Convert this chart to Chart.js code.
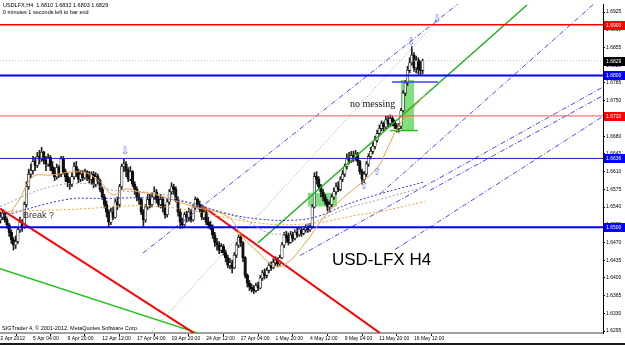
<!DOCTYPE html>
<html>
<head>
<meta charset="utf-8">
<script src="https://cdn.jsdelivr.net/npm/chart.js@4.4.0/dist/chart.umd.min.js"></script>
<style>
  html, body { margin: 0; padding: 0; background: #fff; }
  #wrap { width: 625px; height: 345px; }
</style>
</head>
<body>
<div id="wrap"><canvas id="chart" width="625" height="345"></canvas></div>
<script>
// USDLFX H4 bars, index 0 = first visible bar (2 Apr 2012)
const firstOpen = 1.6515
const closes = [
  1.6520,1.6528,1.6515,1.6505,1.6490,1.6475,1.6465,1.6472,1.6495,1.6510,
  1.6500,1.6545,1.6580,1.6605,1.6612,1.6630,1.6622,1.6640,1.6635,1.6648,
  1.6632,1.6625,1.6638,1.6620,1.6612,1.6600,1.6618,1.6605,1.6635,1.6610,
  1.6600,1.6590,1.6585,1.6600,1.6620,1.6610,1.6595,1.6605,1.6598,1.6610,
  1.6600,1.6595,1.6605,1.6585,1.6600,1.6592,1.6575,1.6560,1.6545,1.6530,
  1.6510,1.6530,1.6520,1.6550,1.6545,1.6580,1.6620,1.6625,1.6612,1.6595,
  1.6610,1.6585,1.6575,1.6560,1.6555,1.6530,1.6515,1.6540,1.6555,1.6545,
  1.6560,1.6570,1.6555,1.6545,1.6555,1.6540,1.6525,1.6550,1.6570,1.6580,
  1.6575,1.6555,1.6530,1.6510,1.6505,1.6525,1.6520,1.6530,1.6515,1.6540,
  1.6555,1.6545,1.6540,1.6520,1.6530,1.6510,1.6505,1.6500,1.6485,1.6470,
  1.6465,1.6455,1.6462,1.6450,1.6440,1.6425,1.6430,1.6420,1.6445,1.6465,
  1.6480,1.6470,1.6440,1.6405,1.6390,1.6382,1.6378,1.6375,1.6385,1.6380,
  1.6400,1.6410,1.6405,1.6415,1.6425,1.6420,1.6430,1.6435,1.6428,1.6440,
  1.6465,1.6485,1.6480,1.6470,1.6485,1.6478,1.6490,1.6485,1.6495,1.6488,
  1.6495,1.6500,1.6495,1.6502,1.6540,1.6600,1.6595,1.6580,1.6570,1.6560,
  1.6550,1.6540,1.6545,1.6560,1.6570,1.6580,1.6575,1.6595,1.6605,1.6620,
  1.6635,1.6630,1.6642,1.6638,1.6645,1.6630,1.6610,1.6595,1.6605,1.6625,
  1.6640,1.6650,1.6660,1.6672,1.6685,1.6695,1.6705,1.6698,1.6712,1.6705,
  1.6715,1.6708,1.6700,1.6695,1.6700,1.6730,1.6765,1.6785,1.6810,1.6825,
  1.6840,1.6815,1.6830,1.6812,1.6810,1.6829
]
const highs = [
  1.6530,1.6535,1.6532,1.6520,1.6508,1.6495,1.6480,1.6483,1.6500,1.6520,
  1.6515,1.6550,1.6590,1.6615,1.6625,1.6640,1.6638,1.6648,1.6652,1.6658,
  1.6650,1.6640,1.6645,1.6642,1.6630,1.6618,1.6625,1.6622,1.6640,1.6640,
  1.6615,1.6608,1.6598,1.6608,1.6628,1.6630,1.6615,1.6612,1.6612,1.6615,
  1.6612,1.6610,1.6610,1.6610,1.6608,1.6605,1.6595,1.6580,1.6565,1.6552,
  1.6535,1.6538,1.6540,1.6555,1.6560,1.6585,1.6625,1.6635,1.6630,1.6618,
  1.6620,1.6612,1.6590,1.6580,1.6568,1.6558,1.6535,1.6545,1.6565,1.6565,
  1.6568,1.6580,1.6575,1.6562,1.6565,1.6560,1.6545,1.6555,1.6575,1.6588,
  1.6585,1.6580,1.6560,1.6535,1.6518,1.6530,1.6532,1.6538,1.6535,1.6545,
  1.6560,1.6558,1.6552,1.6545,1.6538,1.6535,1.6520,1.6512,1.6505,1.6490,
  1.6478,1.6472,1.6468,1.6466,1.6455,1.6445,1.6438,1.6435,1.6450,1.6470,
  1.6485,1.6484,1.6472,1.6442,1.6408,1.6395,1.6388,1.6385,1.6390,1.6392,
  1.6405,1.6415,1.6418,1.6420,1.6430,1.6432,1.6438,1.6442,1.6440,1.6445,
  1.6470,1.6490,1.6492,1.6488,1.6492,1.6490,1.6495,1.6498,1.6500,1.6500,
  1.6502,1.6505,1.6505,1.6508,1.6545,1.6608,1.6610,1.6600,1.6585,1.6575,
  1.6565,1.6555,1.6552,1.6565,1.6578,1.6588,1.6590,1.6600,1.6612,1.6625,
  1.6645,1.6648,1.6650,1.6650,1.6652,1.6648,1.6632,1.6615,1.6610,1.6630,
  1.6645,1.6658,1.6668,1.6680,1.6692,1.6702,1.6710,1.6708,1.6720,1.6720,
  1.6722,1.6720,1.6712,1.6705,1.6705,1.6735,1.6770,1.6790,1.6818,1.6835,
  1.6857,1.6845,1.6838,1.6835,1.6828,1.6832
]
const lows = [
  1.6508,1.6515,1.6510,1.6498,1.6482,1.6468,1.6455,1.6458,1.6468,1.6490,
  1.6492,1.6498,1.6540,1.6575,1.6598,1.6605,1.6612,1.6618,1.6625,1.6630,
  1.6625,1.6612,1.6620,1.6612,1.6605,1.6592,1.6595,1.6598,1.6600,1.6605,
  1.6590,1.6580,1.6575,1.6580,1.6595,1.6600,1.6588,1.6590,1.6592,1.6595,
  1.6592,1.6588,1.6585,1.6578,1.6580,1.6585,1.6570,1.6555,1.6538,1.6520,
  1.6500,1.6505,1.6515,1.6518,1.6535,1.6540,1.6575,1.6610,1.6600,1.6590,
  1.6592,1.6580,1.6565,1.6552,1.6545,1.6525,1.6502,1.6510,1.6535,1.6538,
  1.6540,1.6555,1.6548,1.6540,1.6538,1.6530,1.6518,1.6520,1.6545,1.6565,
  1.6565,1.6550,1.6522,1.6498,1.6498,1.6500,1.6510,1.6512,1.6510,1.6512,
  1.6535,1.6538,1.6530,1.6515,1.6515,1.6505,1.6498,1.6495,1.6478,1.6462,
  1.6455,1.6448,1.6450,1.6445,1.6432,1.6420,1.6418,1.6410,1.6418,1.6440,
  1.6460,1.6462,1.6432,1.6400,1.6382,1.6375,1.6372,1.6369,1.6372,1.6375,
  1.6378,1.6395,1.6398,1.6400,1.6410,1.6415,1.6418,1.6425,1.6422,1.6425,
  1.6438,1.6460,1.6470,1.6465,1.6468,1.6472,1.6475,1.6480,1.6482,1.6482,
  1.6485,1.6490,1.6490,1.6492,1.6498,1.6538,1.6585,1.6575,1.6560,1.6552,
  1.6545,1.6532,1.6530,1.6540,1.6555,1.6565,1.6570,1.6572,1.6590,1.6600,
  1.6615,1.6625,1.6628,1.6630,1.6632,1.6622,1.6605,1.6585,1.6588,1.6600,
  1.6620,1.6635,1.6645,1.6655,1.6668,1.6680,1.6690,1.6690,1.6695,1.6698,
  1.6700,1.6700,1.6695,1.6688,1.6688,1.6695,1.6728,1.6760,1.6780,1.6805,
  1.6820,1.6808,1.6805,1.6802,1.6800,1.6803
]

// axes
const xMin = -0.23
const xMax = 278.3
const yMin = 1.62912
const yMax = 1.69410
const xTickIdx = [0, 15, 31, 47, 63, 79, 95, 111, 127, 143, 159, 175, 191]
const xTickText = ['2 Apr 2012', '5 Apr 04:00', '9 Apr 20:00', '12 Apr 12:00', '17 Apr 04:00', '19 Apr 20:00',
  '24 Apr 12:00', '27 Apr 04:00', '1 May 20:00', '4 May 12:00', '9 May 04:00', '11 May 20:00', '16 May 12:00']
const yTickValues = [1.6925, 1.6890, 1.6855, 1.6820, 1.6785, 1.6750, 1.6715, 1.6680, 1.6645, 1.6610, 1.6575,
  1.6540, 1.6505, 1.6470, 1.6435, 1.6400, 1.6365, 1.6330, 1.6295]

// horizontal levels and their price tags
const levelPrices = [1.6900, 1.6829, 1.6800, 1.6720, 1.6636, 1.6500]
const levelTagColors = ['#ff0000', '#000000', '#0000ff', '#ff0000', '#0000ff', '#0000ff']

// trend lines: [[bar, price], [bar, price]]
const redLine1 = [[-0.23, 1.6537], [89.4, 1.6291]]
const greenLine1 = [[-0.23, 1.6418], [91.2, 1.6291]]
const redLine2 = [[93.5, 1.6541], [175.3, 1.6291]]
const greenUp = [[118.9, 1.6469], [243.2, 1.6939]]
const paleGreenDots = [[69.1, 1.6291], [201.6, 1.6908]]
const blueDashLines = [
  [[65.8, 1.6449], [211.3, 1.6941]],
  [[138.3, 1.6444], [278.3, 1.6777]],
  [[175.3, 1.6566], [274.1, 1.6941]],
  [[182.2, 1.6456], [278.3, 1.6719]],
  [[198.4, 1.6573], [278.3, 1.6760]]
]
const blueShort = [[180.8, 1.6787], [202.1, 1.6787]]
const greenShort = [[179.9, 1.6691], [192.8, 1.6691]]

// rectangles: [bar1, price1, bar2, price2]
const boxes = [
  [142.0, 1.6568, 155.4, 1.6541],
  [185.0, 1.6791, 191.0, 1.6691]
]

// moving averages: [bar, price]
const maOrange = [[3,1.6518],[9,1.6557],[15,1.6600],[23,1.6603],[38,1.6609],[46,1.6590],[52,1.6564],[58,1.6576],
  [64,1.6570],[72,1.6564],[89,1.6541],[105,1.6521],[112,1.6479],[118.5,1.6453],[126,1.6424],[132,1.6428],
  [141.5,1.6473],[149,1.6518],[158,1.6557],[169,1.6596],[175,1.6623],[178.5,1.6654],[185,1.6707],[196,1.6761]]
const maGray = [[-0.2,1.6541],[22.9,1.6580],[41.3,1.6586],[50.6,1.6574],[73.7,1.6566],[88.9,1.6545],[112,1.6516],
  [124.5,1.6488],[135.1,1.6492],[146.2,1.6512],[160,1.6537],[175.3,1.6555],[196,1.6580]]
const maBlue = [[-0.2,1.6521],[30.7,1.6555],[46,1.6557],[73.7,1.6557],[88.9,1.6547],[104.6,1.6527],[119.9,1.6516],
  [135.1,1.6514],[146.2,1.6521],[160,1.6545],[175.3,1.6566],[196,1.6590]]
const maTan = [[-0.2,1.6531],[30.7,1.6535],[73.7,1.6541],[119.9,1.6508],[144.3,1.6508],[166,1.6525],[175.3,1.6531],[196,1.6551]]

// arrows and texts
const arrows = [[57.5, 1.6650, '⇩'], [189.6, 1.6866, '⇩'], [201.6, 1.6910, '⇩'], [167.9, 1.6580, '⇧'], [173.9, 1.6609, '⇧']]
const notes = [
  ['Break ?', 10.4, 1.6524, '9px "Liberation Sans"', '#333'],
  ['no messing', 161.4, 1.6742, '10px "Liberation Serif"', '#111'],
  ['USD-LFX H4', 153.1, 1.6434, '17px "Liberation Sans"', '#000']
]

const FONT = 'Liberation Sans'

function seg(points, color, width, dash, order) {
  return {
    type: 'line',
    data: points.map(p => ({ x: p[0], y: p[1] })),
    borderColor: color,
    borderWidth: width,
    borderDash: dash || [],
    pointRadius: 0,
    tension: 0,
    order: order === undefined ? 0 : order
  }
}

function curve(points, color, dash) {
  const d = seg(points, color, 1, dash, 0)
  d.tension = 0.4
  return d
}

window.addEventListener('DOMContentLoaded', function () {
  const opens = closes.map((c, i) => i === 0 ? firstOpen : closes[i - 1])

  const wicks = closes.map((c, i) => ({ x: i, y: [lows[i], highs[i]] }))
  const bodies = closes.map((c, i) => ({ x: i, y: [opens[i], c] }))
  const bodyFill = closes.map((c, i) => c >= opens[i] ? '#f4f4f4' : '#111111')

  const datasets = []
  datasets.push({ type: 'bar', data: wicks, backgroundColor: '#222', barThickness: 1, grouped: false, order: 3 })
  datasets.push({ type: 'bar', data: bodies, backgroundColor: bodyFill, borderColor: '#000', borderWidth: 0.6,
    borderSkipped: false, barThickness: 2.6, grouped: false, order: 2 })

  datasets.push(curve(maTan, '#f0a040', [2, 2]))
  datasets.push(curve(maBlue, '#3030e0', [2, 2]))
  datasets.push(curve(maGray, '#a0a0a0', [2, 2]))
  datasets.push(curve(maOrange, '#f0a040'))

  levelPrices.forEach((p, k) => {
    let color = '#0000ff', w = 2, dash = []
    if (k === 0) { color = '#ff0000'; w = 1.5 }
    if (k === 1) { color = '#c0c0c0'; w = 1; dash = [1, 2] }
    if (k === 3) { color = '#ff5050'; w = 1 }
    if (k === 4) { color = '#2020c0'; w = 1 }
    datasets.push(seg([[xMin, p], [xMax, p]], color, w, dash))
  })

  blueDashLines.forEach(l => datasets.push(seg(l, '#4848ff', 1, [5, 2, 1, 2])))
  datasets.push(seg(paleGreenDots, '#60c080', 1, [1, 2]))
  datasets.push(seg(redLine1, '#ff0000', 2))
  datasets.push(seg(redLine2, '#ff0000', 2))
  datasets.push(seg(greenLine1, '#20c020', 1.5))
  datasets.push(seg(greenUp, '#20b020', 1.5))
  datasets.push(seg(blueShort, '#4040ff', 1.5))
  datasets.push(seg(greenShort, '#20c020', 1.5))

  const extras = {
    id: 'extras',
    beforeDatasetsDraw(chart) {
      const { ctx, scales } = chart
      ctx.save()
      ctx.fillStyle = '#7fe07f'
      boxes.forEach(b => {
        const x1 = scales.x.getPixelForValue(b[0]), x2 = scales.x.getPixelForValue(b[2])
        const y1 = scales.y.getPixelForValue(b[1]), y2 = scales.y.getPixelForValue(b[3])
        ctx.fillRect(x1, y1, x2 - x1, y2 - y1)
      })
      ctx.restore()
    },
    afterDraw(chart) {
      const { ctx, scales } = chart
      ctx.save()
      // arrows
      ctx.fillStyle = '#5a6cff'
      ctx.font = '10px "DejaVu Sans"'
      ctx.textAlign = 'center'
      ctx.textBaseline = 'middle'
      arrows.forEach(a => ctx.fillText(a[2], scales.x.getPixelForValue(a[0]), scales.y.getPixelForValue(a[1])))
      // notes
      ctx.textAlign = 'left'
      notes.forEach(n => {
        ctx.font = n[3]
        ctx.fillStyle = n[4]
        ctx.fillText(n[0], scales.x.getPixelForValue(n[1]), scales.y.getPixelForValue(n[2]))
      })
      // header and footer text
      ctx.fillStyle = '#000'
      ctx.font = '5.5px "' + FONT + '"'
      ctx.textBaseline = 'alphabetic'
      ctx.fillText('USDLFX,H4  1.6810 1.6832 1.6803 1.6829', 3, 7)
      ctx.fillText('0 minutes 1 seconds left to bar end', 3, 14)
      ctx.fillText('SIGTrader 4, \u00a9 2001-2012, MetaQuotes Software Corp.', 2, 330)
      // price tags on the axis
      ctx.font = '5px "' + FONT + '"'
      ctx.textBaseline = 'middle'
      levelPrices.forEach((p, k) => {
        const y = Math.round(scales.y.getPixelForValue(p))
        ctx.fillStyle = levelTagColors[k]
        ctx.fillRect(604, y - 4, 21, 9)
        ctx.fillStyle = '#fff'
        ctx.fillText(p.toFixed(4), 606, y + 0.5)
      })
      // window edge
      ctx.fillStyle = '#1a1a1a'
      ctx.fillRect(0, 343, 625, 2)
      ctx.restore()
    }
  }

  new Chart(document.getElementById('chart').getContext('2d'), {
    type: 'bar',
    data: { datasets: datasets },
    plugins: [extras],
    options: {
      responsive: false,
      animation: false,
      devicePixelRatio: 1,
      layout: { padding: 0 },
      plugins: { legend: { display: false }, tooltip: { enabled: false } },
      scales: {
        x: {
          type: 'linear', min: xMin, max: xMax, offset: false,
          grid: { drawOnChartArea: false, drawTicks: true, tickLength: 3, color: '#000' },
          border: { color: '#a0a0a0', width: 2 },
          ticks: {
            autoSkip: false, maxRotation: 0, align: 'start', padding: 0, color: '#000',
            font: { family: FONT, size: 5 },
            callback: v => xTickText[xTickIdx.indexOf(v)]
          },
          afterBuildTicks: s => { s.ticks = xTickIdx.map(v => ({ value: v })) },
          afterFit: s => { s.height = 12 }
        },
        y: {
          type: 'linear', position: 'right', min: yMin, max: yMax,
          grid: { drawOnChartArea: false, drawTicks: true, tickLength: 2, color: '#000' },
          border: { color: '#000', width: 1 },
          ticks: { padding: 1, color: '#000', font: { family: FONT, size: 5 }, callback: v => v.toFixed(4) },
          afterBuildTicks: s => { s.ticks = yTickValues.map(v => ({ value: v })) },
          afterFit: s => { s.width = 22 }
        }
      }
    }
  })
})
</script>
</body>
</html>
